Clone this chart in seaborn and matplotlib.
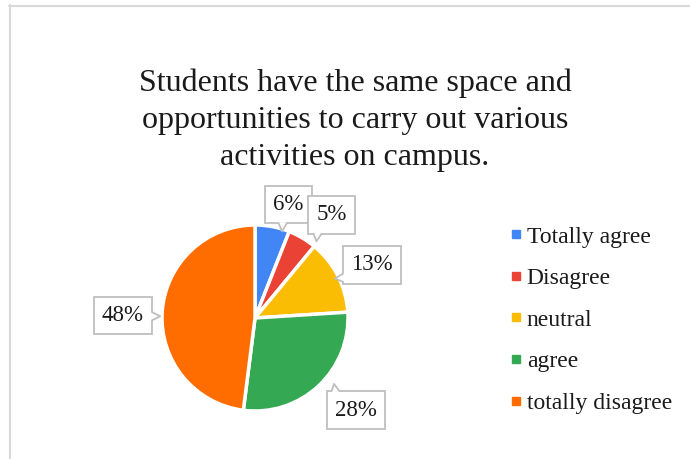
import numpy as np
import matplotlib
matplotlib.use("Agg")
import matplotlib.pyplot as plt
from matplotlib.lines import Line2D
from matplotlib.patches import Polygon
from matplotlib.transforms import IdentityTransform
import seaborn as sns

# Survey responses
categories = ["Totally agree", "Disagree", "neutral", "agree", "totally disagree"]
shares = [6, 5, 13, 28, 48]
palette_hex = ["#4285F4", "#EA4335", "#FBBC04", "#34A853", "#FF6D01"]
title = "Students have the same space and\nopportunities to carry out various\nactivities on campus."

# Label placement: radial distance (in pie radii) and angular nudge (degrees)
label_radius = [1.27, 1.38, 1.38, 1.47, 1.42]
label_nudge = [-5.5, -6.0, -2.6, 4.5, 2.6]

sns.set_theme(style="white")
plt.rcParams["font.family"] = ["Liberation Serif", "DejaVu Serif"]
colors = sns.color_palette(palette_hex)

W, H, DPI = 690, 459, 100
fig = plt.figure(figsize=(W / DPI, H / DPI), dpi=DPI)
fig.patch.set_facecolor("white")

# Pie axes: centre and radius in pixels
cx, cy, r = 255, 318, 93
half = 150
ax = fig.add_axes([(cx - half) / W, (H - cy - half) / H, 2 * half / W, 2 * half / H])

wedges, _ = ax.pie(shares, colors=colors, startangle=90, counterclock=False,
                   radius=1.0, wedgeprops=dict(edgecolor="white", linewidth=2.5))
ax.set_xlim(-half / r, half / r)
ax.set_ylim(-half / r, half / r)
ax.set_aspect("equal")
ax.axis("off")

edge_grey = "#BFBFBF"
total = float(sum(shares))
cum = 0.0
labels = []
for v, rad, nudge in zip(shares, label_radius, label_nudge):
    mid = 90 - 360 * (cum + v / 2) / total
    cum += v
    ang = np.deg2rad(mid + nudge)
    t = ax.text(rad * np.cos(ang), rad * np.sin(ang), f"{v}%", ha="center", va="center",
                fontsize=16.5, color="#1a1a1a", clip_on=False, zorder=3,
                bbox=dict(boxstyle="square,pad=0.36", fc="white", ec=edge_grey, lw=1.3))
    labels.append(t)

fig.text(355 / W, 1 - 120 / H, title, ha="center", va="center",
         fontsize=23, color="#1a1a1a", linespacing=1.36)

handles = [Line2D([0], [0], marker="s", linestyle="none", markersize=5.5,
                  markerfacecolor=c, markeredgecolor=c) for c in colors]
fig.legend(handles, categories, loc="upper left", bbox_to_anchor=(509 / W, 1 - 226 / H),
           frameon=False, fontsize=17, labelspacing=0.85, handlelength=0.6,
           handletextpad=0.15, labelcolor="#1a1a1a", borderaxespad=0, borderpad=0)

# Small callout tails on the label boxes, pointing toward the pie
fig.canvas.draw()
renderer = fig.canvas.get_renderer()
pc = np.array(ax.transData.transform((0, 0)))
for t in labels:
    bb = t.get_bbox_patch().get_window_extent(renderer)
    c = np.array([(bb.x0 + bb.x1) / 2, (bb.y0 + bb.y1) / 2])
    hw, hh = bb.width / 2, bb.height / 2
    u = pc - c
    u = u / np.hypot(*u)
    sx = hw / abs(u[0]) if abs(u[0]) > 1e-9 else np.inf
    sy = hh / abs(u[1]) if abs(u[1]) > 1e-9 else np.inf
    s = min(sx, sy)
    e = c + u * s
    if sx < sy:  # tail leaves a vertical side
        side = np.array([0.0, 1.0])
        outward = np.array([np.sign(u[0]), 0.0])
        e[1] = np.clip(e[1], bb.y0 + 6, bb.y1 - 6)
    else:        # tail leaves a horizontal side
        side = np.array([1.0, 0.0])
        outward = np.array([0.0, np.sign(u[1])])
        e[0] = np.clip(e[0], bb.x0 + 6, bb.x1 - 6)
    b1, b2 = e - side * 4, e + side * 4
    tip = e + outward * 6 + u * 2
    inner = -outward * 1.2
    fig.add_artist(Polygon([b1 + inner, tip, b2 + inner], closed=True, fc="white",
                           ec="none", transform=IdentityTransform(), zorder=4))
    fig.add_artist(Line2D([b1[0], tip[0], b2[0]], [b1[1], tip[1], b2[1]], color=edge_grey,
                          lw=1.3, transform=IdentityTransform(), zorder=5))

# Outer chart frame (left and top edges visible)
frame_kw = dict(color="#D9D9D9", lw=1.5, transform=fig.transFigure)
fig.add_artist(Line2D([9.5 / W, 9.5 / W], [0, 1 - 5 / H], **frame_kw))
fig.add_artist(Line2D([9 / W, 1], [1 - 5.5 / H, 1 - 5.5 / H], **frame_kw))

fig.savefig("out.png", dpi=DPI, facecolor="white")
